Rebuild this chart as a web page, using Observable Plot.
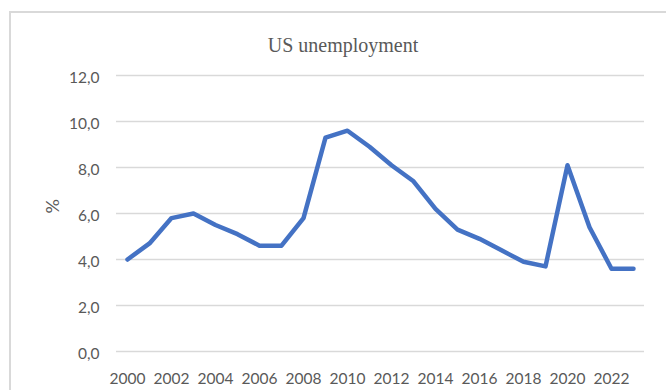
<!DOCTYPE html>
<html>
<head>
<meta charset="utf-8">
<script src="https://cdn.jsdelivr.net/npm/d3@7"></script>
<script src="https://cdn.jsdelivr.net/npm/@observablehq/plot@0.6"></script>
<style>
  html, body { margin: 0; padding: 0; background: #fff; }
  #wrap { position: relative; width: 666px; height: 390px; overflow: hidden; background: #fff; }
  #frame { position: absolute; left: 9px; top: 11px; width: 720px; height: 420px; border: 2px solid #d9d9d9; box-sizing: border-box; }
  #title { position: absolute; left: 0; top: 35px; width: 686px; text-align: center; font-family: "Liberation Serif", "Times New Roman", serif; font-size: 20px; line-height: 20px; color: #595959; }
  #chart { position: absolute; left: 0; top: 0; }
</style>
</head>
<body>
<div id="wrap">
  <div id="frame"></div>
  <div id="chart"></div>
  <div id="title">US unemployment</div>
</div>
<script>
const years = [2000,2001,2002,2003,2004,2005,2006,2007,2008,2009,2010,2011,2012,2013,2014,2015,2016,2017,2018,2019,2020,2021,2022,2023];
const rates = [4.0,4.7,5.8,6.0,5.5,5.1,4.6,4.6,5.8,9.3,9.6,8.9,8.1,7.4,6.2,5.3,4.9,4.4,3.9,3.7,8.1,5.4,3.6,3.6];
const xTickYears = [2000,2002,2004,2006,2008,2010,2012,2014,2016,2018,2020,2022];
const yTicks = [0,2,4,6,8,10,12];
const yLabel = "%";

const data = years.map((y, i) => ({year: y, rate: rates[i]}));

const chart = Plot.plot({
  width: 666,
  height: 390,
  marginLeft: 116,
  marginRight: 22,
  marginTop: 75,
  marginBottom: 39,
  style: {fontFamily: "Lato, 'Open Sans', sans-serif", fontSize: "15.5px", color: "#595959", background: "transparent", overflow: "visible"},
  x: {type: "point", domain: years, padding: 0.5},
  y: {domain: [0, 12]},
  marks: [
    Plot.ruleY(yTicks, {stroke: "#d9d9d9", strokeWidth: 1.6}),
    Plot.axisX({ticks: xTickYears, tickSize: 0, tickPadding: 21, tickFormat: d => String(d), label: null, fill: "#595959"}),
    Plot.axisY({ticks: yTicks, tickSize: 0, tickPadding: 17, dy: 3, tickFormat: d => d.toFixed(1).replace(".", ","), label: null, fill: "#595959"}),
    Plot.text([yLabel], {frameAnchor: "left", dx: -63, rotate: -90, fontSize: 18, fill: "#595959", text: d => d}),
    Plot.line(data, {x: "year", y: "rate", stroke: "#4472C4", strokeWidth: 4.5, strokeLinejoin: "round", strokeLinecap: "round"})
  ]
});
document.getElementById("chart").appendChild(chart);
</script>
</body>
</html>
